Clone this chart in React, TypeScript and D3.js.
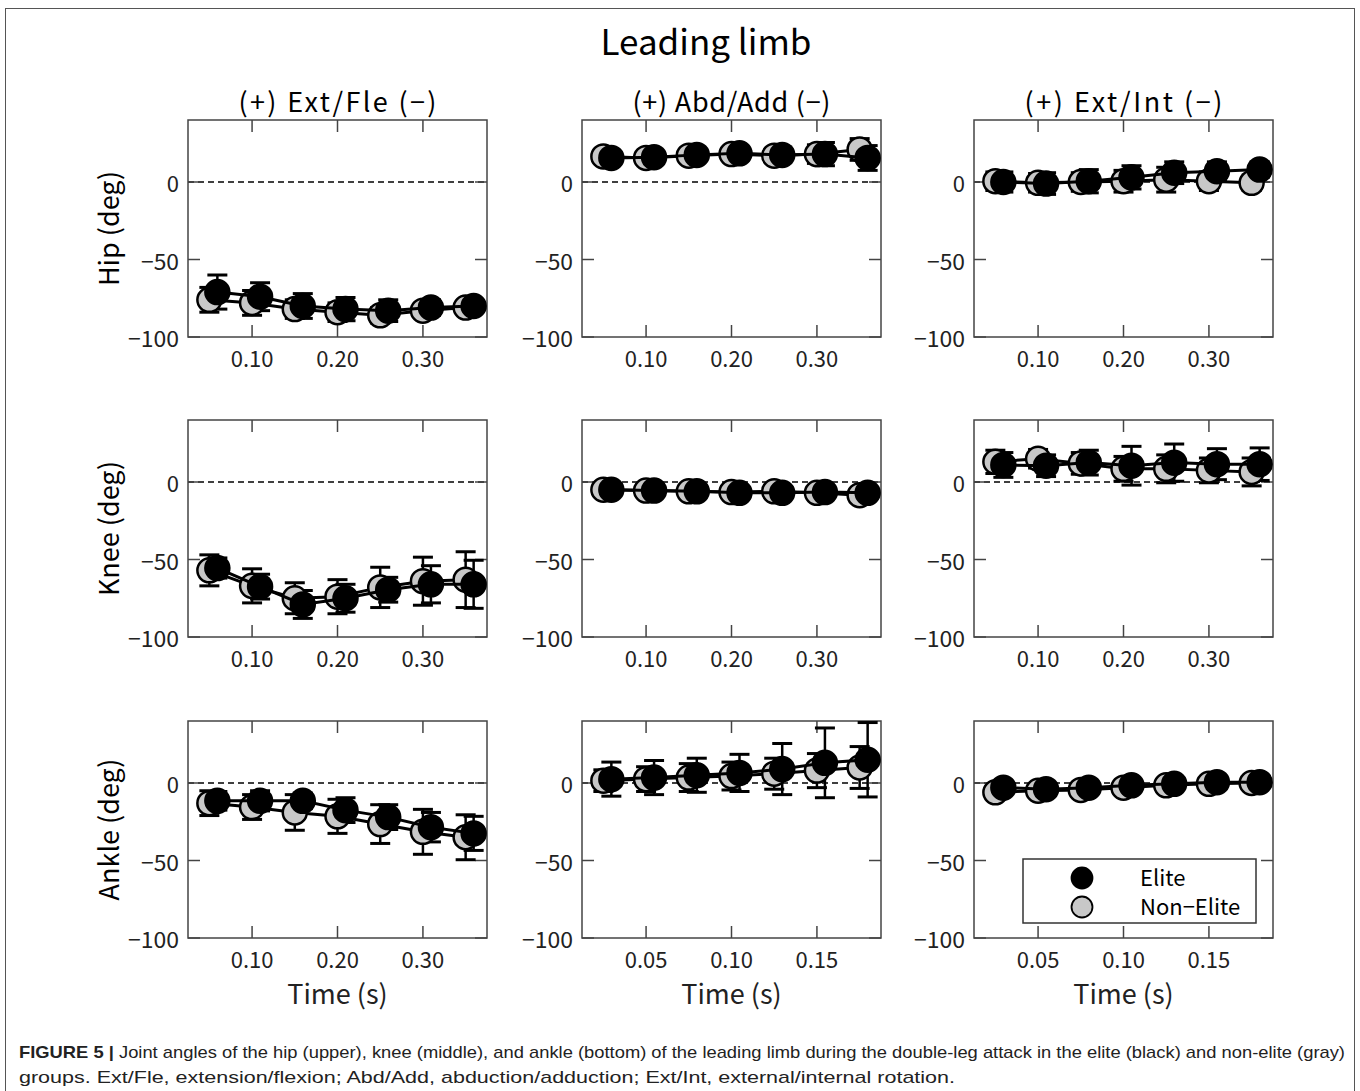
import { useEffect, useRef } from "react";
import * as d3 from "d3";

// time points (s)
const timesLong = [0.05, 0.1, 0.15, 0.2, 0.25, 0.3, 0.35];
const timesShort = [0.025, 0.05, 0.075, 0.1, 0.125, 0.15, 0.175];

const rowLabels = ["Hip (deg)", "Knee (deg)", "Ankle (deg)"];
const colLabels = ["(+) Ext/Fle (\u2212)", "(+) Abd/Add (\u2212)", "(+) Ext/Int (\u2212)"];
const yTicks = [0, -50, -100];
const xTicksLong = [0.1, 0.2, 0.3];
const xTicksShort = [0.05, 0.1, 0.15];

// hip
const hipExtFleElite = [-71, -74, -80, -82, -83, -81, -80];
const hipExtFleEliteSd = [11, 9, 8, 7.5, 7, 5, 3];
const hipExtFleNon = [-76, -78, -82, -84, -86, -83, -81];
const hipExtFleNonSd = [8, 8, 6, 6, 5, 4, 3];
const hipAbdAddElite = [15.5, 16, 17.5, 18.5, 17.5, 18, 15.5];
const hipAbdAddEliteSd = [4, 4, 4, 4.5, 5, 7.5, 8];
const hipAbdAddNon = [16.5, 15.5, 17, 18, 17, 18, 21];
const hipAbdAddNonSd = [4, 4, 4, 4, 4.5, 6, 7];
const hipExtIntElite = [0, -1, 0.5, 3, 6, 7, 8];
const hipExtIntEliteSd = [6.5, 7, 7.5, 7.5, 7, 6, 5];
const hipExtIntNon = [0.5, -0.5, 0, 0.5, 1.5, 0.5, -0.5];
const hipExtIntNonSd = [6, 6, 6, 7, 8, 6, 5];

// knee
const kneeExtFleElite = [-55.5, -67.5, -79, -75, -69.5, -66, -66];
const kneeExtFleEliteSd = [6.5, 8, 9, 9, 8, 12, 15.5];
const kneeExtFleNon = [-57, -67, -75, -74, -68, -64, -63];
const kneeExtFleNonSd = [10, 11, 10, 11, 13, 15.5, 18];
const kneeAbdAddElite = [-5, -5.5, -6, -7, -7, -6.5, -7];
const kneeAbdAddEliteSd = [3, 3, 3, 3, 3, 3, 3];
const kneeAbdAddNon = [-5, -5.5, -6, -6.5, -6, -7, -8.5];
const kneeAbdAddNonSd = [3, 3, 3, 3, 3, 3, 3];
const kneeExtIntElite = [11, 10.5, 12.5, 10.5, 12.5, 11.5, 11.5];
const kneeExtIntEliteSd = [8, 7, 8, 12.5, 12, 10, 10.5];
const kneeExtIntNon = [13, 15, 12, 8.5, 8.5, 7.5, 6.5];
const kneeExtIntNonSd = [7.5, 6, 7, 8, 9, 8, 9];

// ankle
const ankleExtFleElite = [-11.5, -11.5, -11.5, -17.5, -22, -28.5, -32.5];
const ankleExtFleEliteSd = [6, 6.5, 5, 8, 8, 9.5, 11];
const ankleExtFleNon = [-13, -15.5, -19, -21.5, -26.5, -31.5, -35];
const ankleExtFleNonSd = [8, 8, 11.5, 11, 12.5, 14.5, 14.5];
const ankleAbdAddElite = [2.5, 3.5, 5, 6.5, 9, 13, 15];
const ankleAbdAddEliteSd = [11, 11, 11, 12, 16.5, 22.5, 24];
const ankleAbdAddNon = [1.5, 2.5, 3.5, 4.5, 6, 8, 10];
const ankleAbdAddNonSd = [7, 8, 9, 9, 10, 11, 13.5];
const ankleExtIntElite = [-3, -4, -3, -1.5, -0.5, 0.5, 0.5];
const ankleExtIntEliteSd = [3, 3, 3, 3, 3, 3, 3];
const ankleExtIntNon = [-6, -5, -4.5, -3, -1.5, -0.5, 0];
const ankleExtIntNonSd = [3, 3, 3, 3, 3, 3, 3];

const panels = [
  [
    { t: timesLong, e: hipExtFleElite, es: hipExtFleEliteSd, n: hipExtFleNon, ns: hipExtFleNonSd },
    { t: timesLong, e: hipAbdAddElite, es: hipAbdAddEliteSd, n: hipAbdAddNon, ns: hipAbdAddNonSd },
    { t: timesLong, e: hipExtIntElite, es: hipExtIntEliteSd, n: hipExtIntNon, ns: hipExtIntNonSd },
  ],
  [
    { t: timesLong, e: kneeExtFleElite, es: kneeExtFleEliteSd, n: kneeExtFleNon, ns: kneeExtFleNonSd },
    { t: timesLong, e: kneeAbdAddElite, es: kneeAbdAddEliteSd, n: kneeAbdAddNon, ns: kneeAbdAddNonSd },
    { t: timesLong, e: kneeExtIntElite, es: kneeExtIntEliteSd, n: kneeExtIntNon, ns: kneeExtIntNonSd },
  ],
  [
    { t: timesLong, e: ankleExtFleElite, es: ankleExtFleEliteSd, n: ankleExtFleNon, ns: ankleExtFleNonSd },
    { t: timesShort, e: ankleAbdAddElite, es: ankleAbdAddEliteSd, n: ankleAbdAddNon, ns: ankleAbdAddNonSd },
    { t: timesShort, e: ankleExtIntElite, es: ankleExtIntEliteSd, n: ankleExtIntNon, ns: ankleExtIntNonSd },
  ],
];

const FONT = "'Noto Sans CJK JP', 'Noto Sans', sans-serif";
const CAPTION_FONT = "'Liberation Sans Narrow', 'Liberation Sans', Arial, sans-serif";

export default function App() {
  const svgRef = useRef<SVGSVGElement>(null);

  useEffect(() => {
    if (!svgRef.current) return;
    const svg = d3.select(svgRef.current);
    svg.selectAll("*").remove();

    const width = 1360;
    const height = 1091;
    svg.append("rect").attr("width", width).attr("height", height).attr("fill", "#fff");
    svg.append("rect").attr("x", 5.5).attr("y", 8.5).attr("width", 1349).attr("height", 1100)
      .attr("fill", "none").attr("stroke", "#555").attr("stroke-width", 1);

    const lefts = [188, 582, 974];
    const tops = [120, 420, 721];
    const pw = 299;
    const ph = 217;
    const dodge = 8;
    const tickLen = 12;

    svg.append("text").attr("x", 706).attr("y", 55).attr("text-anchor", "middle")
      .attr("font-family", FONT).attr("font-size", "35px").attr("fill", "#000").text("Leading limb");

    colLabels.forEach((lab, c) => {
      svg.append("text").attr("x", lefts[c] + pw / 2).attr("y", 112).attr("text-anchor", "middle")
        .attr("font-family", FONT).attr("font-size", "27px").attr("fill", "#000")
        .attr("textLength", 198).attr("lengthAdjust", "spacing").text(lab);
    });

    rowLabels.forEach((lab, r) => {
      svg.append("text")
        .attr("transform", `translate(107,${tops[r] + ph / 2}) rotate(-90)`)
        .attr("text-anchor", "middle").attr("dominant-baseline", "central")
        .attr("font-family", FONT).attr("font-size", "27px").attr("fill", "#000").text(lab);
    });

    const fmtX = d3.format(".2f");
    const fmtY = d3.format("d");

    panels.forEach((row, r) => {
      row.forEach((p, c) => {
        const short = p.t === timesShort;
        const x = d3.scaleLinear().domain(short ? [0.0125, 0.1875] : [0.025, 0.375]).range([0, pw]);
        const y = d3.scaleLinear().domain([-100, 40]).range([ph, 0]);
        const g = svg.append("g").attr("transform", `translate(${lefts[c]},${tops[r]})`);
        const xt = short ? xTicksShort : xTicksLong;

        // zero line
        g.append("line").attr("x1", 0).attr("x2", pw).attr("y1", y(0)).attr("y2", y(0))
          .attr("stroke", "#000").attr("stroke-width", 1.6).attr("stroke-dasharray", "6,4");

        // ticks (inward, all sides)
        xt.forEach((v) => {
          g.append("line").attr("x1", x(v)).attr("x2", x(v)).attr("y1", ph).attr("y2", ph - tickLen)
            .attr("stroke", "#444").attr("stroke-width", 1.5);
          g.append("line").attr("x1", x(v)).attr("x2", x(v)).attr("y1", 0).attr("y2", tickLen)
            .attr("stroke", "#444").attr("stroke-width", 1.5);
          g.append("text").attr("x", x(v)).attr("y", ph + 30).attr("text-anchor", "middle")
            .attr("font-family", FONT).attr("font-size", "22px").attr("fill", "#222").text(fmtX(v));
        });
        yTicks.forEach((v) => {
          g.append("line").attr("x1", 0).attr("x2", tickLen).attr("y1", y(v)).attr("y2", y(v))
            .attr("stroke", "#444").attr("stroke-width", 1.5);
          g.append("line").attr("x1", pw).attr("x2", pw - tickLen).attr("y1", y(v)).attr("y2", y(v))
            .attr("stroke", "#444").attr("stroke-width", 1.5);
          g.append("text").attr("x", -9).attr("y", y(v)).attr("text-anchor", "end")
            .attr("dominant-baseline", "central")
            .attr("font-family", FONT).attr("font-size", "22px").attr("fill", "#222")
            .attr("textLength", v === -100 ? 51 : v === -50 ? 38 : null)
            .attr("lengthAdjust", "spacingAndGlyphs").text(fmtY(v));
        });

        g.append("rect").attr("width", pw).attr("height", ph).attr("fill", "none")
          .attr("stroke", "#444").attr("stroke-width", 1.5);

        const series = [
          { vals: p.n, sd: p.ns, fill: "#c8c8c8", off: 0 },
          { vals: p.e, sd: p.es, fill: "#000", off: dodge },
        ];

        // error bars
        series.forEach((s) => {
          s.vals.forEach((v, i) => {
            const cx = x(p.t[i]) + s.off;
            const y1 = y(v + s.sd[i]);
            const y2 = y(v - s.sd[i]);
            g.append("line").attr("x1", cx).attr("x2", cx).attr("y1", y1).attr("y2", y2)
              .attr("stroke", "#000").attr("stroke-width", 2.5);
            [y1, y2].forEach((yy) => {
              g.append("line").attr("x1", cx - 10).attr("x2", cx + 10).attr("y1", yy).attr("y2", yy)
                .attr("stroke", "#000").attr("stroke-width", 3);
            });
          });
        });

        // lines + markers
        series.forEach((s) => {
          const line = d3.line<number>().x((_, i) => x(p.t[i]) + s.off).y((v) => y(v));
          g.append("path").attr("d", line(s.vals) || "").attr("fill", "none")
            .attr("stroke", "#000").attr("stroke-width", 3);
          g.selectAll(null).data(s.vals).enter().append("circle")
            .attr("cx", (_, i) => x(p.t[i]) + s.off).attr("cy", (v) => y(v)).attr("r", 12)
            .attr("fill", s.fill).attr("stroke", "#000").attr("stroke-width", 2.5);
        });

        if (r === 2) {
          g.append("text").attr("x", pw / 2).attr("y", ph + 66).attr("text-anchor", "middle")
            .attr("font-family", FONT).attr("font-size", "27px").attr("fill", "#222").text("Time (s)");
        }

        if (r === 2 && c === 2) {
          const lg = g.append("g");
          lg.append("rect").attr("x", 49).attr("y", 138).attr("width", 233).attr("height", 64)
            .attr("fill", "#fff").attr("stroke", "#333").attr("stroke-width", 1.5);
          [
            { fill: "#000", label: "Elite", yy: 157 },
            { fill: "#c8c8c8", label: "Non\u2212Elite", yy: 186 },
          ].forEach((it) => {
            lg.append("circle").attr("cx", 108).attr("cy", it.yy).attr("r", 10.5)
              .attr("fill", it.fill).attr("stroke", "#000").attr("stroke-width", 1.8);
            lg.append("text").attr("x", 166).attr("y", it.yy + 8).attr("font-family", FONT)
              .attr("font-size", "22px").attr("fill", "#000").text(it.label);
          });
        }
      });
    });

    // caption
    const cap1 = svg.append("text").attr("x", 19).attr("y", 1058)
      .attr("font-family", CAPTION_FONT).attr("font-size", "17px").attr("fill", "#222")
      .attr("textLength", 1326).attr("lengthAdjust", "spacingAndGlyphs");
    cap1.append("tspan").attr("font-weight", "bold").text("FIGURE 5 | ");
    cap1.append("tspan").text("Joint angles of the hip (upper), knee (middle), and ankle (bottom) of the leading limb during the double-leg attack in the elite (black) and non-elite (gray)");
    svg.append("text").attr("x", 19).attr("y", 1083)
      .attr("font-family", CAPTION_FONT).attr("font-size", "17px").attr("fill", "#222")
      .attr("textLength", 936).attr("lengthAdjust", "spacingAndGlyphs")
      .text("groups. Ext/Fle, extension/flexion; Abd/Add, abduction/adduction; Ext/Int, external/internal rotation.");
  }, []);

  return (
    <svg ref={svgRef} width={1360} height={1091}
      style={{ position: "absolute", left: 0, top: 0, display: "block" }} />
  );
}
